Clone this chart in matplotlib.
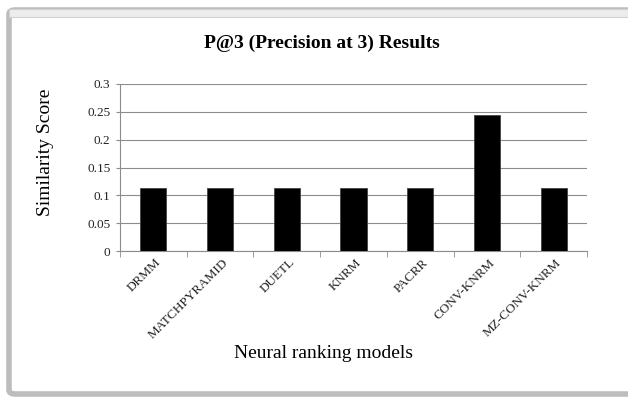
import matplotlib
matplotlib.use("Agg")
import matplotlib.pyplot as plt
import matplotlib.transforms as mtransforms
from matplotlib.patches import FancyBboxPatch, Rectangle

models = ["DRMM", "MATCHPYRAMID", "DUETL", "KNRM", "PACRR", "CONV-KNRM", "MZ-CONV-KNRM"]
scores = [0.114, 0.114, 0.114, 0.114, 0.114, 0.244, 0.114]
yticks = [0, 0.05, 0.1, 0.15, 0.2, 0.25, 0.3]
ytick_labels = ["0", "0.05", "0.1", "0.15", "0.2", "0.25", "0.3"]

plt.rcParams['font.family'] = ['Liberation Serif', 'DejaVu Serif']

W, H = 628, 398
fig = plt.figure(figsize=(W/100, H/100), dpi=100)

# outer chart frame
fig.patches.append(FancyBboxPatch((9/W, 4/H), 640/W, 384/H, boxstyle="round,pad=0,rounding_size=0.01",
                                  transform=fig.transFigure, facecolor='white', edgecolor='#bdbdbd',
                                  linewidth=4, zorder=-10))
fig.patches.append(Rectangle((9/W, 381/H), 640/W, 8/H, transform=fig.transFigure,
                             facecolor='#ececec', edgecolor='#d0d0d0', linewidth=0.8, zorder=-9))

ax = fig.add_axes([120/W, 1 - 251/H, (587-120)/W, (251-84)/H])
ax.set_zorder(5)
ax.patch.set_alpha(0)
x = list(range(len(models)))
ax.bar(x, scores, width=0.39, color='black', edgecolor='#444444', linewidth=0.6, zorder=3)

ax.set_ylim(0, 0.3)
ax.set_xlim(-0.5, len(models) - 0.5)
ax.set_yticks(yticks)
ax.set_yticklabels(ytick_labels, fontsize=9.5, color='#222222')
ax.yaxis.grid(True, color='#8c8c8c', linewidth=0.8, zorder=0)
ax.set_axisbelow(True)

ax.set_xticks(x)
ax.set_xticklabels(models, rotation=45, ha='right', va='center', rotation_mode='anchor',
                   fontsize=9.5, color='#222222')
ax.tick_params(axis='x', length=0, pad=7)
offset = mtransforms.ScaledTranslation(6/100, 0, fig.dpi_scale_trans)
for lbl in ax.get_xticklabels():
    lbl.set_transform(lbl.get_transform() + offset)
ax.set_xticks([i - 0.5 for i in range(len(models) + 1)], minor=True)
ax.tick_params(axis='x', which='minor', length=4, color='#8c8c8c', direction='out')
ax.tick_params(axis='y', length=3, color='#8c8c8c', direction='out', pad=4)

for s in ['top', 'right']:
    ax.spines[s].set_visible(False)
for s in ['left', 'bottom']:
    ax.spines[s].set_color('#8c8c8c')
    ax.spines[s].set_linewidth(0.8)

fig.text(45/W, 1 - 152/H, "Similarity Score", rotation=90, ha='center', va='center', fontsize=14)
fig.text(323/W, 1 - 354/H, "Neural ranking models", ha='center', va='center', fontsize=14)
fig.text(322/W, 1 - 43/H, "P@3 (Precision at 3) Results", ha='center', va='center', fontsize=14,
         fontweight='bold')

fig.savefig("out.png", dpi=100)
